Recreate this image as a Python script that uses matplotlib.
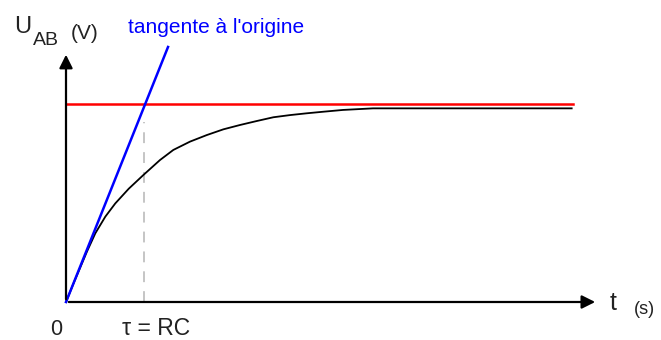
import matplotlib
matplotlib.use("Agg")
import matplotlib.pyplot as plt

# charge curve (t in units of tau, u in units of E)
t = [0, 0.103, 0.269, 0.376, 0.504, 0.632, 0.804, 0.991, 1.205, 1.376, 1.59, 1.804, 2.017,
     2.231, 2.445, 2.658, 2.872, 3.086, 3.299, 3.551, 3.936, 6.483]
u = [0, 0.1, 0.255, 0.347, 0.431, 0.498, 0.572, 0.641, 0.717, 0.768, 0.81, 0.843, 0.872,
     0.894, 0.914, 0.933, 0.944, 0.953, 0.961, 0.97, 0.978, 0.978]
asym_t = [0, 6.5]
asym_u = [1, 1]
tan_t = [0, 1.308]
tan_u = [0, 1.288]
tau = 1.0
tau_top = 0.909

plt.rcParams['font.family'] = ['Liberation Sans', 'DejaVu Sans']

fig = plt.figure(figsize=(6.61, 3.40), dpi=100)
ax = fig.add_axes([0, 0, 1, 1])
ax.set_xlim(-66 / 78, 595 / 78)
ax.set_ylim(-38 / 198, 302 / 198)
ax.axis('off')

# axes with arrows
ax.annotate('', xy=(6.82, 0), xytext=(0, 0),
            arrowprops=dict(arrowstyle='-|>', color='black', lw=1.6, mutation_scale=20))
ax.annotate('', xy=(0, 1.263), xytext=(0, 0),
            arrowprops=dict(arrowstyle='-|>', color='black', lw=1.6, mutation_scale=20))

ax.plot([tau, tau], [0, tau_top], color='#c0c0c0', lw=1.3, dashes=(6, 5))
ax.plot(asym_t, asym_u, color='red', lw=1.8)
ax.plot(t, u, color='black', lw=1.3)
ax.plot(tan_t, tan_u, color='blue', lw=1.8)

def px(x, y):
    return x / 661, 1 - y / 340

fig.text(*px(14, 33), 'U', fontsize=17, color='#222222', va='baseline')
fig.text(*px(33, 45), 'AB', fontsize=14, color='#222222', va='baseline')
fig.text(*px(71, 39), '(V)', fontsize=15, color='#222222', va='baseline')
fig.text(*px(128, 33), "tangente à l'origine", fontsize=15, color='blue', va='baseline')
fig.text(*px(50, 335), '0', fontsize=15.5, color='#222222', va='baseline')
fig.text(*px(122, 335), 'τ = RC', fontsize=16.5, color='#222222', va='baseline')
fig.text(*px(610, 310), 't', fontsize=18, color='#222222', va='baseline')
fig.text(*px(634, 314), '(s)', fontsize=13, color='#222222', va='baseline')

fig.savefig('out.png', dpi=100)
